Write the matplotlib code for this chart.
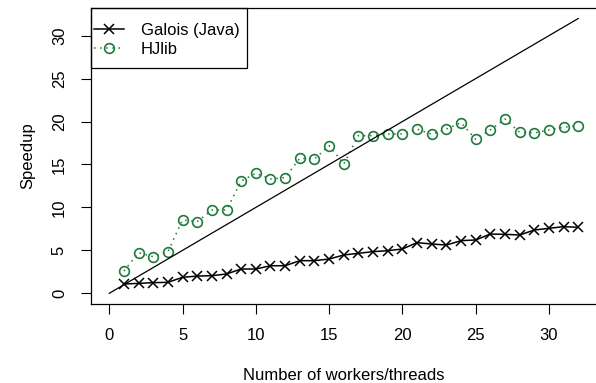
import matplotlib.pyplot as plt
from matplotlib.patches import Rectangle

plt.rcParams['font.family'] = ['Liberation Sans', 'DejaVu Sans']

# data
workers = list(range(1, 33))
galois = [1.08, 1.16, 1.24, 1.28, 1.86, 2.01, 2.05, 2.25, 2.83, 2.83,
          3.21, 3.21, 3.80, 3.80, 3.99, 4.46, 4.66, 4.85, 4.96, 5.16,
          5.90, 5.74, 5.62, 6.13, 6.21, 6.90, 6.87, 6.79, 7.37, 7.57,
          7.76, 7.69]
hjlib = [2.60, 4.73, 4.26, 4.85, 8.54, 8.34, 9.70, 9.70, 13.08, 13.97,
         13.31, 13.47, 15.72, 15.64, 17.19, 15.06, 18.36, 18.36, 18.55, 18.55,
         19.13, 18.51, 19.13, 19.87, 17.93, 19.02, 20.30, 18.75, 18.67, 19.02,
         19.33, 19.52]
ideal_x = [0, 32]
ideal_y = [0, 32]
xticks = [0, 5, 10, 15, 20, 25, 30]
yticks = [0, 5, 10, 15, 20, 25, 30]

green = '#1e7b3c'
fs = 12

fig = plt.figure(figsize=(5.96, 3.83), dpi=100)
W, H = 596, 383
left, right, top, bottom = 90.5, 597, 7.5, 304.3
ax = fig.add_axes([left / W, (H - bottom) / H, (right - left) / W, (bottom - top) / H])

ax.plot(workers, galois, color='black', lw=1.1, marker='x', ms=7, mew=1.1,
        label='Galois (Java)')
ax.plot(workers, hjlib, color=green, lw=1.1, ls=(0, (1, 3)), marker='o', ms=7,
        mfc='none', mew=1.2, label='HJlib')
ax.plot(ideal_x, ideal_y, color='black', lw=0.9)

ax.set_xlim(-1.28, 33.28)
ax.set_ylim(-1.28, 33.28)
ax.set_xticks(xticks)
ax.set_yticks(yticks)
ax.tick_params(direction='out', length=7, width=0.8, labelsize=fs, pad=10)
for lab in ax.get_yticklabels():
    lab.set_rotation(90)
    lab.set_va('center')

for s in ax.spines.values():
    s.set_linewidth(0.9)
ax.spines['right'].set_visible(False)  # plot box runs past the image edge

ax.set_xlabel('Number of workers/threads', fontsize=fs, labelpad=18)
ax.set_ylabel('Speedup', fontsize=fs, labelpad=12)

# legend box (R style): text entries + separate square frame
leg = ax.legend(loc='upper left', bbox_to_anchor=(94 / W, (H - 23) / H),
                bbox_transform=fig.transFigure, borderaxespad=0, borderpad=0,
                fontsize=fs, frameon=False, handlelength=1.8,
                handletextpad=1.0, labelspacing=0.25)
fig.patches.append(Rectangle((left / W, (H - 68) / H), (247 - left) / W, 60 / H,
                             transform=fig.transFigure, fill=False,
                             edgecolor='black', lw=0.9, zorder=5))

plt.savefig('out.png', dpi=100)
